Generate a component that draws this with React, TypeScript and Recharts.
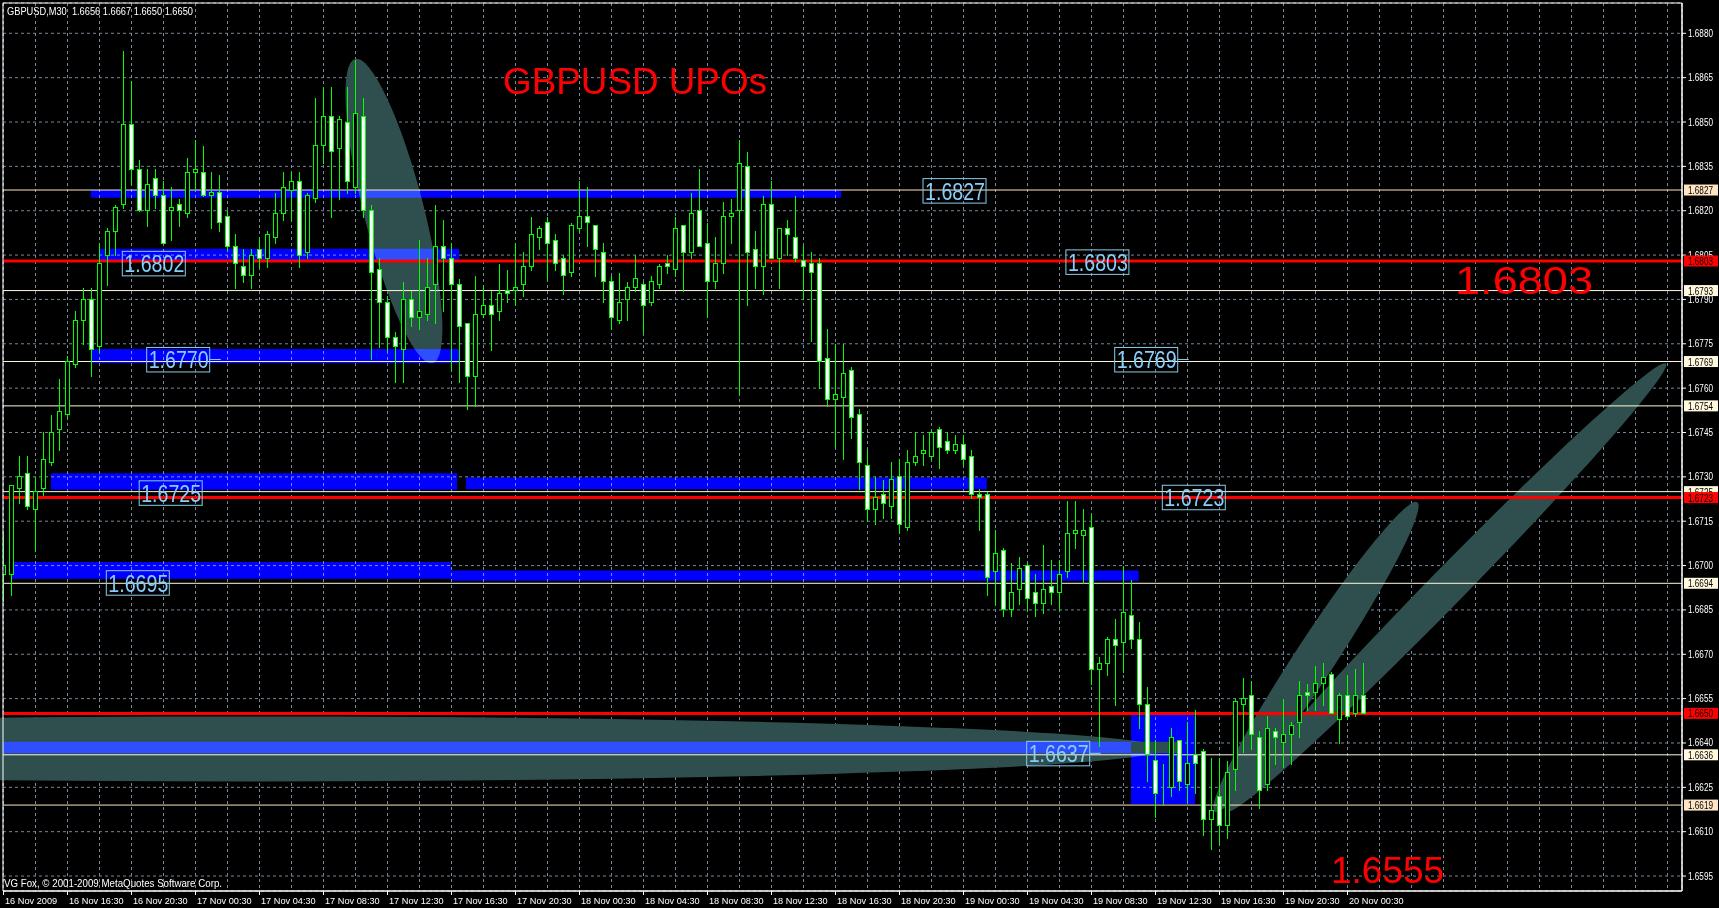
import { ComposedChart, Bar, XAxis, YAxis, CartesianGrid, ReferenceLine, ReferenceArea, ReferenceDot } from 'recharts'

// GBPUSD M30, one value per bar, bar 0 = 16 Nov 2009 12:30
const OPEN = [
  1.6697, 1.6697, 1.6726, 1.6731, 1.6719, 1.6726, 1.6735, 1.6746, 1.6751, 1.6768,
  1.6783, 1.6790, 1.6774, 1.6805, 1.6813, 1.6822, 1.6849, 1.6834, 1.6820, 1.6831,
  1.6825, 1.6820, 1.6822, 1.6819, 1.6833, 1.6833, 1.6825, 1.6826, 1.6818, 1.6808,
  1.6801, 1.6798, 1.6807, 1.6804, 1.6811, 1.6819, 1.6827, 1.6830, 1.6806, 1.6824,
  1.6842, 1.6852, 1.6841, 1.6850, 1.6828, 1.6852, 1.6820, 1.6800, 1.6789, 1.6777,
  1.6773, 1.6790, 1.6784, 1.6785, 1.6795, 1.6808, 1.6804, 1.6795, 1.6782, 1.6764,
  1.6785, 1.6788, 1.6786, 1.6793, 1.6793, 1.6795, 1.6801, 1.6811, 1.6816, 1.6810,
  1.6804, 1.6799, 1.6814, 1.6818, 1.6815, 1.6806, 1.6796, 1.6783, 1.6790, 1.6794,
  1.6795, 1.6789, 1.6795, 1.6802, 1.6800, 1.6815, 1.6806, 1.6820, 1.6809, 1.6796,
  1.6802, 1.6818, 1.6820, 1.6835, 1.6807, 1.6801, 1.6822, 1.6804, 1.6814, 1.6811,
  1.6803, 1.6802, 1.6802, 1.6770, 1.6756, 1.6757, 1.6766, 1.6751, 1.6734, 1.6719,
  1.6724, 1.6720, 1.6730, 1.6713, 1.6735, 1.6738, 1.6737, 1.6746, 1.6742, 1.6739,
  1.6741, 1.6737, 1.6724, 1.6724, 1.6698, 1.6705, 1.6685, 1.6692, 1.6700, 1.6691,
  1.6687, 1.6693, 1.6691, 1.6698, 1.6711, 1.6710, 1.6713, 1.6665, 1.6667, 1.6675,
  1.6674, 1.6683, 1.6675, 1.6653, 1.6634, 1.6624, 1.6625, 1.6641, 1.6626, 1.6636,
  1.6637, 1.6614, 1.6622, 1.6612, 1.6631, 1.6653, 1.6656, 1.6642, 1.6626, 1.6644,
  1.6640, 1.6643, 1.6647, 1.6657, 1.6657, 1.6660, 1.6663, 1.6648, 1.6656, 1.6650,
  1.6656,
]
const HIGH = [
  1.6711, 1.6727, 1.6737, 1.6737, 1.6730, 1.6745, 1.6751, 1.6763, 1.6771, 1.6786,
  1.6794, 1.6794, 1.6809, 1.6814, 1.6822, 1.6874, 1.6864, 1.6837, 1.6834, 1.6834,
  1.6830, 1.6828, 1.6824, 1.6838, 1.6844, 1.6842, 1.6833, 1.6832, 1.6820, 1.6812,
  1.6807, 1.6807, 1.6811, 1.6813, 1.6826, 1.6833, 1.6833, 1.6833, 1.6826, 1.6858,
  1.6862, 1.6862, 1.6852, 1.6862, 1.6871, 1.6858, 1.6822, 1.6804, 1.6791, 1.6779,
  1.6796, 1.6793, 1.6810, 1.6804, 1.6822, 1.6817, 1.6809, 1.6797, 1.6782, 1.6798,
  1.6795, 1.6793, 1.6802, 1.6800, 1.6809, 1.6806, 1.6818, 1.6815, 1.6818, 1.6812,
  1.6805, 1.6816, 1.6830, 1.6828, 1.6815, 1.6809, 1.6798, 1.6799, 1.6796, 1.6805,
  1.6796, 1.6798, 1.6802, 1.6805, 1.6818, 1.6815, 1.6826, 1.6834, 1.6816, 1.6811,
  1.6823, 1.6824, 1.6844, 1.6840, 1.6813, 1.6825, 1.6830, 1.6814, 1.6817, 1.6825,
  1.6808, 1.6806, 1.6804, 1.6780, 1.6775, 1.6775, 1.6767, 1.6753, 1.6739, 1.6730,
  1.6729, 1.6735, 1.6736, 1.6739, 1.6745, 1.6744, 1.6746, 1.6747, 1.6745, 1.6744,
  1.6744, 1.6739, 1.6726, 1.6725, 1.6712, 1.6706, 1.6701, 1.6703, 1.6701, 1.6697,
  1.6707, 1.6702, 1.6702, 1.6722, 1.6722, 1.6719, 1.6717, 1.6669, 1.6676, 1.6682,
  1.6700, 1.6695, 1.6681, 1.6659, 1.6641, 1.6633, 1.6645, 1.6641, 1.6647, 1.6651,
  1.6638, 1.6635, 1.6635, 1.6634, 1.6655, 1.6662, 1.6661, 1.6644, 1.6649, 1.6645,
  1.6655, 1.6647, 1.6661, 1.6660, 1.6666, 1.6667, 1.6664, 1.6657, 1.6663, 1.6665,
  1.6667,
]
const LOW = [
  1.6688, 1.6690, 1.6721, 1.6719, 1.6705, 1.6724, 1.6734, 1.6739, 1.6750, 1.6767,
  1.6775, 1.6764, 1.6772, 1.6795, 1.6805, 1.6821, 1.6829, 1.6820, 1.6815, 1.6821,
  1.6809, 1.6810, 1.6815, 1.6818, 1.6827, 1.6825, 1.6814, 1.6813, 1.6807, 1.6794,
  1.6796, 1.6794, 1.6801, 1.6801, 1.6809, 1.6817, 1.6817, 1.6801, 1.6804, 1.6823,
  1.6836, 1.6818, 1.6824, 1.6826, 1.6826, 1.6818, 1.6770, 1.6774, 1.6773, 1.6762,
  1.6762, 1.6781, 1.6780, 1.6783, 1.6782, 1.6786, 1.6766, 1.6762, 1.6753, 1.6754,
  1.6784, 1.6773, 1.6783, 1.6789, 1.6788, 1.6791, 1.6800, 1.6807, 1.6797, 1.6800,
  1.6792, 1.6798, 1.6813, 1.6808, 1.6798, 1.6789, 1.6780, 1.6782, 1.6783, 1.6793,
  1.6779, 1.6788, 1.6794, 1.6799, 1.6798, 1.6793, 1.6804, 1.6808, 1.6784, 1.6794,
  1.6799, 1.6809, 1.6758, 1.6788, 1.6794, 1.6792, 1.6804, 1.6794, 1.6805, 1.6803,
  1.6790, 1.6776, 1.6760, 1.6754, 1.6740, 1.6736, 1.6743, 1.6726, 1.6715, 1.6714,
  1.6716, 1.6716, 1.6711, 1.6712, 1.6734, 1.6734, 1.6736, 1.6733, 1.6738, 1.6738,
  1.6734, 1.6723, 1.6712, 1.6690, 1.6687, 1.6683, 1.6683, 1.6687, 1.6685, 1.6683,
  1.6684, 1.6687, 1.6685, 1.6696, 1.6706, 1.6694, 1.6660, 1.6639, 1.6663, 1.6653,
  1.6664, 1.6672, 1.6645, 1.6627, 1.6615, 1.6619, 1.6622, 1.6624, 1.6620, 1.6623,
  1.6609, 1.6604, 1.6606, 1.6608, 1.6624, 1.6637, 1.6638, 1.6618, 1.6624, 1.6633,
  1.6632, 1.6633, 1.6642, 1.6651, 1.6651, 1.6653, 1.6650, 1.6640, 1.6648, 1.6649,
  1.6650,
]
const CLOSE = [
  1.6700, 1.6727, 1.6730, 1.6720, 1.6725, 1.6736, 1.6745, 1.6752, 1.6769, 1.6783,
  1.6790, 1.6773, 1.6802, 1.6813, 1.6821, 1.6849, 1.6834, 1.6820, 1.6829, 1.6825,
  1.6809, 1.6821, 1.6820, 1.6833, 1.6834, 1.6825, 1.6826, 1.6816, 1.6808, 1.6802,
  1.6798, 1.6805, 1.6804, 1.6812, 1.6819, 1.6828, 1.6830, 1.6805, 1.6825, 1.6842,
  1.6852, 1.6840, 1.6851, 1.6830, 1.6853, 1.6820, 1.6799, 1.6789, 1.6777, 1.6774,
  1.6790, 1.6784, 1.6786, 1.6794, 1.6808, 1.6804, 1.6795, 1.6781, 1.6764, 1.6785,
  1.6788, 1.6785, 1.6792, 1.6792, 1.6794, 1.6801, 1.6812, 1.6814, 1.6809, 1.6802,
  1.6798, 1.6815, 1.6818, 1.6816, 1.6807, 1.6796, 1.6784, 1.6789, 1.6794, 1.6797,
  1.6788, 1.6796, 1.6801, 1.6801, 1.6814, 1.6806, 1.6819, 1.6808, 1.6796, 1.6802,
  1.6818, 1.6819, 1.6836, 1.6806, 1.6801, 1.6822, 1.6804, 1.6814, 1.6812, 1.6804,
  1.6801, 1.6799, 1.6769, 1.6756, 1.6758, 1.6765, 1.6750, 1.6735, 1.6719, 1.6723,
  1.6721, 1.6729, 1.6714, 1.6735, 1.6737, 1.6739, 1.6745, 1.6740, 1.6739, 1.6741,
  1.6736, 1.6724, 1.6723, 1.6696, 1.6704, 1.6685, 1.6691, 1.6699, 1.6689, 1.6687,
  1.6692, 1.6691, 1.6697, 1.6711, 1.6712, 1.6712, 1.6665, 1.6667, 1.6675, 1.6673,
  1.6684, 1.6675, 1.6653, 1.6636, 1.6623, 1.6624, 1.6642, 1.6627, 1.6633, 1.6633,
  1.6614, 1.6617, 1.6612, 1.6630, 1.6654, 1.6655, 1.6643, 1.6624, 1.6645, 1.6642,
  1.6643, 1.6646, 1.6656, 1.6656, 1.6660, 1.6662, 1.6650, 1.6656, 1.6649, 1.6656,
  1.6650,
]

// one label every 8 bars (4 hours)
const TIME_LABELS = [
  '16 Nov 2009', '16 Nov 16:30', '16 Nov 20:30', '17 Nov 00:30', '17 Nov 04:30', '17 Nov 08:30',
  '17 Nov 12:30', '17 Nov 16:30', '17 Nov 20:30', '18 Nov 00:30', '18 Nov 04:30', '18 Nov 08:30',
  '18 Nov 12:30', '18 Nov 16:30', '18 Nov 20:30', '19 Nov 00:30', '19 Nov 04:30', '19 Nov 08:30',
  '19 Nov 12:30', '19 Nov 16:30', '19 Nov 20:30', '20 Nov 00:30',
]

const PRICE_TICKS = [
  1.6595, 1.6610, 1.6625, 1.6640, 1.6655, 1.6670, 1.6685, 1.6700, 1.6715, 1.6730,
  1.6745, 1.6760, 1.6775, 1.6790, 1.6805, 1.6820, 1.6835, 1.6850, 1.6865, 1.6880,
]

// horizontal levels
const RED_LEVELS = [1.6803, 1.6723, 1.6650]
const PEACH_LEVELS = [1.6827, 1.6619]
const CREAM_LEVELS = [1.6793, 1.6769, 1.6754, 1.6725, 1.6694, 1.6636]

// blue zones: bar index from/to, price from/to
const ZONES = [
  { x1: 10.94, x2: 104.7, y1: 1.68244, y2: 1.6827 },
  { x1: 12.06, x2: 56.94, y1: 1.68027, y2: 1.68071 },
  { x1: 10.94, x2: 56.94, y1: 1.67685, y2: 1.67732 },
  { x1: 5.94, x2: 56.7, y1: 1.67256, y2: 1.67312 },
  { x1: 57.8, x2: 122.9, y1: 1.67258, y2: 1.67298 },
  { x1: 1.06, x2: 55.94, y1: 1.66955, y2: 1.67012 },
  { x1: 55.94, x2: 141.9, y1: 1.66949, y2: 1.66983 },
  { x1: -0.0625, x2: 140.94, y1: 1.66365, y2: 1.66404 },
  { x1: 140.94, x2: 148.94, y1: 1.66194, y2: 1.6650 },
]
// where the 1.6637 band runs into the box the two cancel out
const OVERLAP = { x1: 140.94, x2: 146.7, y1: 1.66365, y2: 1.66404 }

// ellipse outlines, centre in chart units
const ELLIPSES = [
  { k: 48.8, price: 1.68199, rx: 157, ry: 30, angle: 75.7 },
  { k: 30.8, price: 1.6638, rx: 913, ry: 32.5, angle: 0 },
  { k: 164.06, price: 1.66691, rx: 185, ry: 20, angle: -56.8 },
  { k: 180.44, price: 1.66927, rx: 313, ry: 18, angle: -45.6 },
]

// level labels drawn on the chart
const TAGS = [
  { text: '1.6827', k: 114.94, price: 1.68268, dash: false },
  { text: '1.6802', k: 14.85, price: 1.68022, dash: false },
  { text: '1.6803', k: 132.8, price: 1.68027, dash: false },
  { text: '1.6770', k: 17.9, price: 1.67697, dash: true },
  { text: '1.6769', k: 138.9, price: 1.67697, dash: true },
  { text: '1.6725', k: 16.96, price: 1.67246, dash: false },
  { text: '1.6723', k: 144.85, price: 1.67231, dash: false },
  { text: '1.6695', k: 12.85, price: 1.66942, dash: false },
  { text: '1.6637', k: 127.9, price: 1.66365, dash: true },
]

const X_DOMAIN = [-0.0625, 209.8125]
const Y_DOMAIN = [1.658994, 1.689025]
const GRID_TICKS = Array.from({ length: 53 }, (_, i) => i * 4)
const FONT = '"Liberation Sans", Arial, sans-serif'
const GREEN = '#00FF00'

const data = OPEN.map((o, i) => ({
  i,
  open: o,
  high: HIGH[i],
  low: LOW[i],
  close: CLOSE[i],
  range: [LOW[i], HIGH[i]],
}))

const snap = (v: number) => Math.round(v - 0.5) + 0.5

function Candle(props: any) {
  const { x, y, width, height, payload } = props
  if (!payload || height == null) return null
  const { open, close, high, low } = payload
  const ppu = height / (high - low || 1e-9)
  const cx = snap(x + width / 2)
  const top = y + (high - Math.max(open, close)) * ppu
  const bot = y + (high - Math.min(open, close)) * ppu
  const bull = close >= open
  return (
    <g>
      <line x1={cx} x2={cx} y1={Math.round(y)} y2={Math.round(y + height) + 1} stroke={GREEN} strokeWidth={1} />
      <rect
        x={cx - 2}
        y={snap(top)}
        width={4}
        height={Math.max(0, snap(bot) - snap(top))}
        fill={bull ? '#000000' : '#FFFFFF'}
        stroke={GREEN}
        strokeWidth={1}
      />
    </g>
  )
}

function TimeTick(props: any) {
  const { x, y, payload } = props
  const k = payload.value
  const label = k % 8 === 0 ? TIME_LABELS[k / 8] : undefined
  if (!label) return <g />
  return (
    <g>
      <line x1={snap(x)} x2={snap(x)} y1={y} y2={y + 4} stroke="#FFFFFF" />
      <text x={x + 1.5} y={y + 13} fill="#FFFFFF" fontSize={9.2} fontFamily={FONT}>
        {label}
      </text>
    </g>
  )
}

function PriceTick(props: any) {
  const { x, y, payload } = props
  return (
    <g>
      <line x1={x} x2={x + 4} y1={y} y2={y} stroke="#FFFFFF" />
      <text x={x + 6} y={y + 3.5} fill="#FFFFFF" fontSize={10} fontFamily={FONT} textLength={25} lengthAdjust="spacingAndGlyphs">
        {payload.value.toFixed(4)}
      </text>
    </g>
  )
}

function levelTag(price: number, bg: string) {
  return (p: any) => (
    <g>
      <rect x={p.cx + 2} y={p.cy - 5.5} width={34} height={11} fill={bg} />
      <text x={p.cx + 6} y={p.cy + 4} fill="#000000" fontSize={10} fontFamily={FONT} textLength={25} lengthAdjust="spacingAndGlyphs">
        {price.toFixed(4)}
      </text>
    </g>
  )
}

function boxTag(text: string, dash: boolean) {
  return (p: any) => (
    <g>
      <rect x={p.cx} y={p.cy - 12} width={63} height={24.5} fill="none" stroke="#87CEEB" strokeWidth={1} />
      <text x={p.cx + 2} y={p.cy + 9} fill="#87CEFA" fontSize={24} fontFamily={FONT} textLength={60} lengthAdjust="spacingAndGlyphs">
        {text}
      </text>
      {dash && <line x1={p.cx + 63} x2={p.cx + 74} y1={p.cy} y2={p.cy} stroke="#87CEFA" />}
    </g>
  )
}

function ellipseShape(e: { rx: number; ry: number; angle: number }) {
  return (p: any) => (
    <g transform={`translate(${p.cx} ${p.cy}) rotate(${e.angle})`}>
      <ellipse cx={0} cy={0} rx={e.rx} ry={e.ry} style={{ fill: '#2F4F4F', fillOpacity: 1, opacity: 1, stroke: 'none' }} />
    </g>
  )
}

const levelColor = (p: number) =>
  RED_LEVELS.includes(p) ? '#FF0000' : PEACH_LEVELS.includes(p) ? '#FFE4C4' : '#FFF8DC'

export default function App() {
  const allLevels = [...CREAM_LEVELS, ...PEACH_LEVELS, ...RED_LEVELS]
  return (
    <div style={{ position: 'relative', width: 1719, height: 908, background: '#000000' }}>
      <style>{'body{margin:0;background:#000}'}</style>
      <ComposedChart width={1719} height={908} data={data} margin={{ top: 3, right: 0, bottom: 0, left: 3 }}>
        <CartesianGrid stroke="#778899" strokeDasharray="3 3" />
        <XAxis
          dataKey="i"
          type="number"
          domain={X_DOMAIN}
          allowDataOverflow
          ticks={GRID_TICKS}
          interval={0}
          height={17}
          tickSize={0}
          tickMargin={0}
          tickLine={false}
          axisLine={{ stroke: '#FFFFFF' }}
          tick={<TimeTick />}
        />
        <YAxis
          orientation="right"
          type="number"
          domain={Y_DOMAIN}
          allowDataOverflow
          ticks={PRICE_TICKS}
          interval={0}
          width={37}
          tickSize={0}
          tickMargin={0}
          tickLine={false}
          axisLine={{ stroke: '#FFFFFF' }}
          tick={<PriceTick />}
        />
        {ELLIPSES.map((e, i) => (
          <ReferenceDot key={`e${i}`} x={e.k} y={e.price} r={1} ifOverflow="visible" zIndex={90} shape={ellipseShape(e)} />
        ))}
        {ZONES.map((z, i) => (
          <ReferenceArea
            key={`z${i}`}
            x1={z.x1}
            x2={z.x2}
            y1={z.y1}
            y2={z.y2}
            fill="#0000FF"
            fillOpacity={1}
            stroke="none"
            ifOverflow="hidden"
            zIndex={100}
            style={{ mixBlendMode: 'lighten' }}
          />
        ))}
        <ReferenceArea
          x1={OVERLAP.x1}
          x2={OVERLAP.x2}
          y1={OVERLAP.y1}
          y2={OVERLAP.y2}
          fill="#2F4F4F"
          fillOpacity={1}
          stroke="none"
          ifOverflow="hidden"
          zIndex={110}
        />
        {allLevels.map((p) => (
          <ReferenceLine
            key={`l${p}`}
            y={p}
            stroke={levelColor(p)}
            strokeWidth={RED_LEVELS.includes(p) ? 3 : 1}
            zIndex={200}
          />
        ))}
        <Bar dataKey="range" barSize={5} isAnimationActive={false} shape={<Candle />} zIndex={300} />
        <ReferenceArea
          x1={X_DOMAIN[0]}
          x2={X_DOMAIN[1]}
          y1={Y_DOMAIN[0]}
          y2={Y_DOMAIN[1]}
          fill="none"
          stroke="#FFFFFF"
          strokeWidth={1}
          zIndex={550}
        />
        {TAGS.map((t, i) => (
          <ReferenceDot key={`t${i}`} x={t.k} y={t.price} r={1} ifOverflow="visible" zIndex={600} shape={boxTag(t.text, t.dash)} />
        ))}
        {allLevels.map((p) => (
          <ReferenceDot
            key={`p${p}`}
            x={X_DOMAIN[1]}
            y={p}
            r={1}
            ifOverflow="visible"
            zIndex={2100}
            shape={levelTag(p, levelColor(p))}
          />
        ))}
      </ComposedChart>
      <svg width={1719} height={908} style={{ position: 'absolute', left: 0, top: 0, pointerEvents: 'none' }}>
        <text x={7} y={15} fill="#FFFFFF" fontSize={11} fontFamily={FONT} textLength={186} lengthAdjust="spacingAndGlyphs" style={{ whiteSpace: 'pre' }}>
          {'GBPUSD,M30  1.6656 1.6667 1.6650 1.6650'}
        </text>
        <text x={503} y={94} fill="#FF0000" fontSize={36} fontFamily={FONT} textLength={264} lengthAdjust="spacingAndGlyphs">
          GBPUSD UPOs
        </text>
        <text x={1455} y={294} fill="#FF0000" fontSize={38} fontFamily={FONT} textLength={138} lengthAdjust="spacingAndGlyphs">
          1.6803
        </text>
        <text x={1331} y={883} fill="#FF0000" fontSize={37} fontFamily={FONT}>
          1.6555
        </text>
        <text x={4} y={887} fill="#FFFFFF" fontSize={11} fontFamily={FONT} textLength={218} lengthAdjust="spacingAndGlyphs">
          VG Fox, © 2001-2009 MetaQuotes Software Corp.
        </text>
      </svg>
    </div>
  )
}
